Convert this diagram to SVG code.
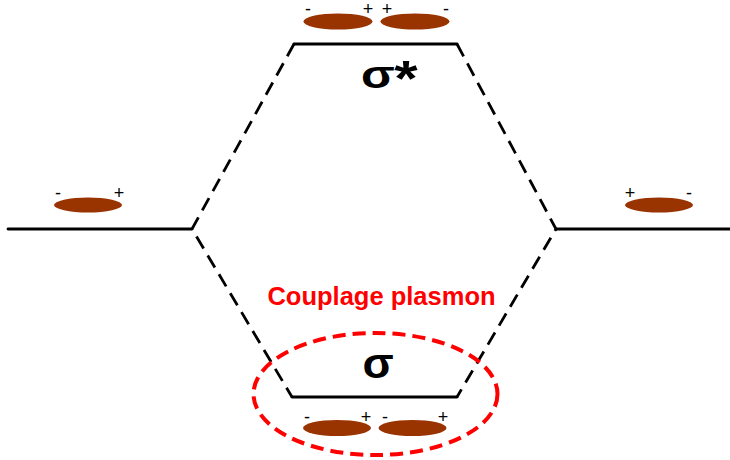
<svg xmlns="http://www.w3.org/2000/svg" width="730" height="460" viewBox="0 0 730 460">
<style>
.lvl{stroke:#000;stroke-width:2.8;fill:none;stroke-linecap:round}
.dash{stroke:#000;stroke-width:2.8;fill:none;stroke-dasharray:14 8}
.orb{fill:#993300}
.sg{font-family:"Liberation Sans",Arial,sans-serif;font-size:18px;fill:#000}
.big{font-family:"Liberation Sans",Arial,sans-serif;font-weight:bold;font-size:38px;fill:#000}
.ast{font-family:"Liberation Sans",Arial,sans-serif;font-weight:bold;font-size:50px;fill:#000}
.red{font-family:"Liberation Sans",Arial,sans-serif;font-weight:bold;font-size:25.5px;fill:#ff0000}
</style>
<rect width="730" height="460" fill="#fff"/>
<g id="connectors">
<path class="dash" d="M294,44 L192,229 L292,397"/>
<path class="dash" d="M457,44 L556,229 L457,397"/>
</g>
<g id="left-level">
<line class="lvl" x1="8" y1="229" x2="192" y2="229"/>
<ellipse class="orb" cx="88" cy="205" rx="34" ry="7.5"/>
<text class="sg" x="58" y="199" text-anchor="middle">-</text>
<text class="sg" x="119" y="199" text-anchor="middle">+</text>
</g>
<g id="right-level">
<line class="lvl" x1="556" y1="229" x2="730" y2="229"/>
<ellipse class="orb" cx="659" cy="205" rx="34" ry="7.5"/>
<text class="sg" x="630" y="199" text-anchor="middle">+</text>
<text class="sg" x="689" y="199" text-anchor="middle">-</text>
</g>
<g id="sigma-star">
<line class="lvl" x1="294" y1="44" x2="457" y2="44"/>
<ellipse class="orb" cx="338" cy="21.5" rx="34.5" ry="8"/>
<ellipse class="orb" cx="415" cy="21.5" rx="34.5" ry="8"/>
<text class="sg" x="308" y="15" text-anchor="middle">-</text>
<text class="sg" x="368" y="15" text-anchor="middle">+</text>
<text class="sg" x="387" y="15" text-anchor="middle">+</text>
<text class="sg" x="446" y="15" text-anchor="middle">-</text>
<text class="big" transform="translate(378,88) scale(1.3,1)" text-anchor="middle">σ</text>
<text class="ast" transform="translate(406,96) scale(1.2,1)" text-anchor="middle">*</text>
</g>
<g id="sigma">
<line class="lvl" x1="292" y1="397" x2="457" y2="397"/>
<ellipse class="orb" cx="337" cy="428" rx="34" ry="8"/>
<ellipse class="orb" cx="412.5" cy="428" rx="34" ry="8"/>
<text class="sg" x="307" y="423" text-anchor="middle">-</text>
<text class="sg" x="366" y="423" text-anchor="middle">+</text>
<text class="sg" x="385" y="423" text-anchor="middle">-</text>
<text class="sg" x="443" y="423" text-anchor="middle">+</text>
<text class="big" transform="translate(378,378) scale(1.2,1.1)" text-anchor="middle">σ</text>
</g>
<g id="coupling">
<ellipse cx="375.5" cy="394" rx="122" ry="61" fill="none" stroke="#ff0000" stroke-width="4" stroke-dasharray="13 7"/>
<text class="red" x="381.5" y="305" text-anchor="middle">Couplage plasmon</text>
</g>
</svg>
